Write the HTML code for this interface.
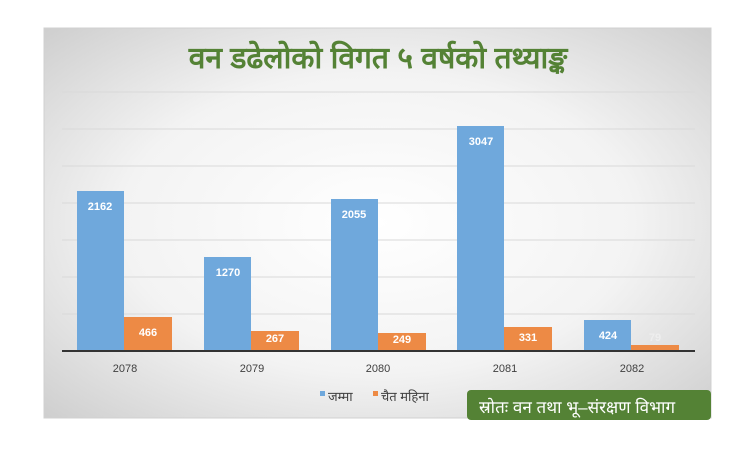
<!DOCTYPE html>
<html><head><meta charset="utf-8"><style>
body{margin:0;width:750px;height:450px;background:#fff;overflow:hidden;font-family:"Liberation Sans","Noto Sans CJK SC",sans-serif}
</style></head><body>
<svg width="750" height="450" xmlns="http://www.w3.org/2000/svg">
<defs><radialGradient id="g" cx="50%" cy="50%" r="70%"><stop offset="0" stop-color="#ffffff"/><stop offset="0.55" stop-color="#f3f3f3"/><stop offset="1" stop-color="#cfcfcf"/></radialGradient></defs>
<rect x="44" y="28" width="667" height="390" fill="url(#g)" stroke="#d0d0d0"/>
<text x="378" y="68" text-anchor="middle" font-size="30" font-weight="bold" fill="#548235" font-family="Liberation Sans,'Noto Sans CJK SC',sans-serif">वन डढेलोको विगत ५ वर्षको तथ्याङ्क</text>
<g stroke="#d9d9d9" stroke-width="1">
<line x1="62" x2="695" y1="92" y2="92"/><line x1="62" x2="695" y1="129" y2="129"/><line x1="62" x2="695" y1="166" y2="166"/><line x1="62" x2="695" y1="203" y2="203"/><line x1="62" x2="695" y1="240" y2="240"/><line x1="62" x2="695" y1="277" y2="277"/><line x1="62" x2="695" y1="314" y2="314"/>
</g>
<g fill="#6fa8dc">
<rect x="77" y="191" width="47" height="160"/><rect x="204" y="257" width="47" height="94"/><rect x="331" y="199" width="47" height="152"/><rect x="457" y="126" width="47" height="225"/><rect x="584" y="320" width="47" height="31"/>
</g>
<g fill="#ed8a45">
<rect x="124" y="317" width="48" height="34"/><rect x="251" y="331" width="48" height="20"/><rect x="378" y="333" width="48" height="18"/><rect x="504" y="327" width="48" height="24"/><rect x="631" y="345" width="48" height="6"/>
</g>
<line x1="62" x2="695" y1="351" y2="351" stroke="#333" stroke-width="2"/>
<g font-size="11" font-weight="bold" fill="#fff" text-anchor="middle">
<text x="100" y="210">2162</text><text x="228" y="276">1270</text><text x="354" y="218">2055</text><text x="481" y="145">3047</text><text x="608" y="339">424</text>
<text x="148" y="336">466</text><text x="275" y="342">267</text><text x="402" y="343">249</text><text x="528" y="341">331</text><text x="655" y="341" fill="#eee">79</text>
</g>
<g font-size="11" fill="#404040" text-anchor="middle">
<text x="125" y="372">2078</text><text x="252" y="372">2079</text><text x="378" y="372">2080</text><text x="505" y="372">2081</text><text x="632" y="372">2082</text>
</g>
<rect x="320" y="391" width="5" height="5" fill="#6fa8dc"/>
<text x="328" y="401" font-size="13" fill="#404040">जम्मा</text>
<rect x="373" y="391" width="5" height="5" fill="#ed8a45"/>
<text x="381" y="401" font-size="13" fill="#404040">चैत महिना</text>
<rect x="467" y="390" width="244" height="30" rx="4" fill="#548235"/>
<text x="479" y="413" font-size="17" fill="#fff">स्रोतः वन तथा भू–संरक्षण विभाग</text>
</svg>
</body></html>
